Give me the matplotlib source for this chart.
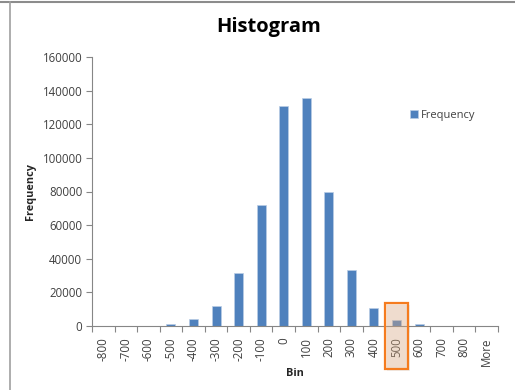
import numpy as np
import matplotlib.pyplot as plt
from matplotlib.patches import Rectangle
from matplotlib.lines import Line2D

bins = ["-800", "-700", "-600", "-500", "-400", "-300", "-200", "-100", "0",
        "100", "200", "300", "400", "500", "600", "700", "800", "More"]
frequency = [0, 0, 0, 1400, 4300, 12000, 31600, 72100, 130600,
             135500, 79600, 33400, 10800, 3600, 1300, 0, 0, 0]
y_ticks = [0, 20000, 40000, 60000, 80000, 100000, 120000, 140000, 160000]
highlight = "500"

plt.rcParams['font.family'] = ['Open Sans', 'DejaVu Sans']

fig = plt.figure(figsize=(5.15, 3.9), dpi=100)
ax = fig.add_axes([92 / 515, 1 - 326 / 390, 406 / 515, 269 / 390])

x = np.arange(len(bins))
ax.bar(x, frequency, width=0.4, color="#4f81bd", edgecolor="#b9cde5",
       linewidth=0.5, label="Frequency", zorder=2)

ax.set_xlim(-0.5, len(bins) - 0.5)
ax.set_ylim(0, 160000)
ax.set_yticks(y_ticks)
ax.set_yticklabels([str(v) for v in y_ticks], fontsize=8.3, color="#404040")
ax.set_xticks(x)
ax.set_xticklabels(bins, rotation=90, fontsize=8.3, color="#404040")
ax.set_xticks(np.arange(len(bins) + 1) - 0.5, minor=True)
ax.tick_params(axis="x", which="major", length=0, pad=8)
ax.tick_params(axis="x", which="minor", length=4, color="#868686", width=0.8)
ax.tick_params(axis="y", length=4, color="#868686", width=0.8, pad=3)

for s in ["top", "right"]:
    ax.spines[s].set_visible(False)
for s in ["left", "bottom"]:
    ax.spines[s].set_color("#868686")
    ax.spines[s].set_linewidth(0.8)

ax.set_xlabel("Bin", fontsize=7.8, fontweight="bold", color="#262626", labelpad=2)
ax.set_ylabel("Frequency", fontsize=7.8, fontweight="bold", color="#262626", labelpad=5)
fig.text(268.5 / 515, 0.93, "Histogram", ha="center", va="center", fontsize=14.5,
         fontweight="bold", color="black")

leg = ax.legend(loc="upper left", bbox_to_anchor=(400 / 515, 1 - 100 / 390),
                bbox_transform=fig.transFigure, frameon=False, fontsize=8,
                handlelength=0.7, handleheight=0.7, handletextpad=0.3)
for t in leg.get_texts():
    t.set_color("#404040")

# highlight box around the 500 bin label
i = bins.index(highlight)
px = ax.transData.transform((i, 0))[0] / fig.dpi / 5.15
w = 23 / 515
box_y0, box_h = 1 - 369 / 390, 66 / 390
fig.patches.append(Rectangle((px - w / 2 + 0.003, box_y0 - 0.006), w, box_h,
                             transform=fig.transFigure, facecolor="#000000",
                             alpha=0.06, edgecolor="none", zorder=5))
fig.patches.append(Rectangle((px - w / 2, box_y0), w, box_h,
                             transform=fig.transFigure, facecolor="#eeb98f",
                             alpha=0.35, edgecolor="none", zorder=6))
fig.patches.append(Rectangle((px - w / 2, box_y0), w, box_h,
                             transform=fig.transFigure, facecolor="none",
                             edgecolor="#f57c1f", linewidth=1.6, zorder=7))

# screenshot frame
fig.add_artist(Line2D([0, 1], [1 - 2 / 390] * 2, color="#8c8c8c", linewidth=1.5))
fig.add_artist(Line2D([9.5 / 515] * 2, [0, 1 - 2 / 390], color="#a0a0a0", linewidth=1.2))

fig.savefig("out.png", dpi=100)
